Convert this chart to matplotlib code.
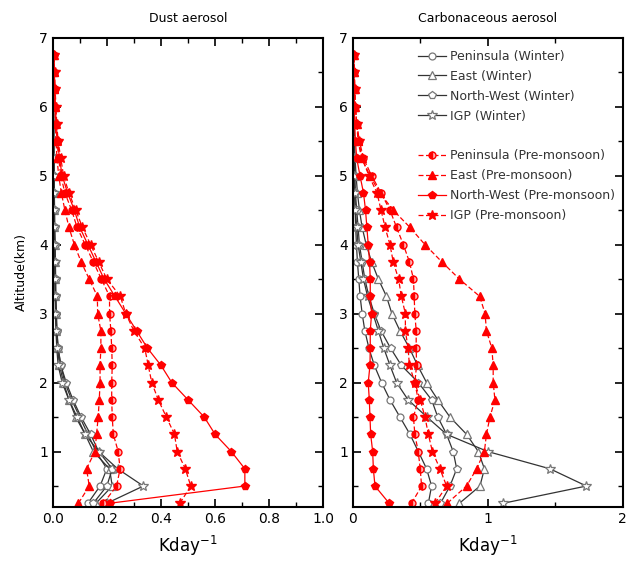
import numpy as np
import matplotlib
matplotlib.use("Agg")
import matplotlib.pyplot as plt
from matplotlib.lines import Line2D
from matplotlib.ticker import MultipleLocator

# altitude levels (km)
alt = [0.25, 0.5, 0.75, 1.0, 1.25, 1.5, 1.75, 2.0, 2.25, 2.5, 2.75, 3.0, 3.25, 3.5,
       3.75, 4.0, 4.25, 4.5, 4.75, 5.0, 5.25, 5.5, 5.75, 6.0, 6.25, 6.5, 6.75]

regions = ["Peninsula", "East", "North-West", "IGP"]

# dust heating rate (K/day)
dust_winter = {
    "Peninsula": [0.13, 0.175, 0.20, 0.16, 0.13, 0.10, 0.07, 0.045, 0.03, 0.02, 0.015, 0.012, 0.01, 0.01,
                  0.008, 0.008, 0.006, 0.006, 0.005, 0.005, 0.004, 0.004, 0.003, 0.003, 0.003, 0.002, 0.002],
    "East": [0.16, 0.22, 0.21, 0.15, 0.12, 0.085, 0.06, 0.04, 0.025, 0.018, 0.014, 0.012, 0.01, 0.009,
             0.008, 0.007, 0.006, 0.005, 0.005, 0.004, 0.004, 0.003, 0.003, 0.003, 0.002, 0.002, 0.002],
    "North-West": [0.15, 0.20, 0.22, 0.17, 0.14, 0.105, 0.075, 0.05, 0.03, 0.02, 0.016, 0.014, 0.012, 0.011,
                   0.01, 0.009, 0.008, 0.007, 0.006, 0.005, 0.005, 0.004, 0.004, 0.003, 0.003, 0.002, 0.002],
    "IGP": [0.20, 0.335, 0.24, 0.17, 0.12, 0.09, 0.06, 0.035, 0.02, 0.015, 0.012, 0.01, 0.009, 0.008,
            0.007, 0.006, 0.005, 0.005, 0.004, 0.004, 0.003, 0.003, 0.003, 0.002, 0.002, 0.002, 0.002],
}
dust_premon = {
    "Peninsula": [0.187, 0.236, 0.249, 0.242, 0.224, 0.22, 0.218, 0.218, 0.22, 0.218, 0.215, 0.21, 0.21, 0.18,
                  0.15, 0.12, 0.09, 0.07, 0.045, 0.03, 0.022, 0.016, 0.012, 0.009, 0.007, 0.005, 0.004],
    "East": [0.095, 0.135, 0.125, 0.156, 0.162, 0.168, 0.172, 0.175, 0.175, 0.178, 0.178, 0.166, 0.165, 0.135,
             0.105, 0.08, 0.06, 0.045, 0.032, 0.022, 0.016, 0.012, 0.01, 0.008, 0.006, 0.005, 0.004],
    "North-West": [0.21, 0.71, 0.71, 0.66, 0.60, 0.56, 0.50, 0.44, 0.40, 0.35, 0.31, 0.27, 0.23, 0.19,
                   0.16, 0.13, 0.10, 0.08, 0.055, 0.035, 0.025, 0.018, 0.013, 0.01, 0.008, 0.006, 0.005],
    "IGP": [0.47, 0.51, 0.49, 0.46, 0.45, 0.42, 0.39, 0.366, 0.353, 0.34, 0.30, 0.27, 0.25, 0.20,
            0.17, 0.14, 0.11, 0.085, 0.06, 0.04, 0.03, 0.02, 0.015, 0.012, 0.009, 0.007, 0.005],
}

# carbonaceous heating rate (K/day)
carb_winter = {
    "Peninsula": [0.56, 0.584, 0.547, 0.486, 0.424, 0.35, 0.276, 0.214, 0.16, 0.12, 0.09, 0.07, 0.055, 0.045,
                  0.035, 0.028, 0.022, 0.018, 0.014, 0.012, 0.01, 0.008, 0.007, 0.006, 0.005, 0.004, 0.004],
    "East": [0.79, 0.942, 0.975, 0.93, 0.843, 0.72, 0.63, 0.547, 0.48, 0.42, 0.35, 0.29, 0.25, 0.19,
             0.14, 0.10, 0.07, 0.05, 0.035, 0.025, 0.018, 0.014, 0.012, 0.01, 0.008, 0.007, 0.006],
    "North-West": [0.65, 0.72, 0.77, 0.744, 0.695, 0.63, 0.584, 0.486, 0.36, 0.28, 0.21, 0.16, 0.12, 0.09,
                   0.07, 0.05, 0.04, 0.03, 0.02, 0.016, 0.012, 0.01, 0.008, 0.007, 0.006, 0.005, 0.004],
    "IGP": [1.114, 1.73, 1.46, 1.0, 0.695, 0.55, 0.41, 0.325, 0.276, 0.23, 0.19, 0.15, 0.11, 0.08,
            0.06, 0.04, 0.03, 0.02, 0.015, 0.012, 0.01, 0.008, 0.007, 0.006, 0.005, 0.004, 0.004],
}
carb_premon = {
    "Peninsula": [0.436, 0.51, 0.50, 0.485, 0.46, 0.45, 0.485, 0.46, 0.473, 0.47, 0.47, 0.46, 0.455, 0.45,
                  0.42, 0.375, 0.325, 0.276, 0.21, 0.14, 0.08, 0.05, 0.03, 0.02, 0.015, 0.012, 0.01],
    "East": [0.70, 0.843, 0.917, 0.975, 0.99, 1.016, 1.053, 1.04, 1.04, 1.03, 0.99, 0.98, 0.94, 0.79,
             0.66, 0.535, 0.424, 0.30, 0.20, 0.128, 0.066, 0.04, 0.03, 0.02, 0.015, 0.012, 0.01],
    "North-West": [0.27, 0.165, 0.153, 0.148, 0.133, 0.128, 0.123, 0.115, 0.128, 0.13, 0.13, 0.14, 0.13, 0.13,
                   0.125, 0.115, 0.105, 0.095, 0.08, 0.054, 0.03, 0.02, 0.015, 0.012, 0.01, 0.008, 0.006],
    "IGP": [0.61, 0.695, 0.646, 0.59, 0.56, 0.535, 0.50, 0.46, 0.42, 0.41, 0.39, 0.39, 0.36, 0.34,
            0.30, 0.276, 0.24, 0.21, 0.18, 0.12, 0.07, 0.045, 0.03, 0.02, 0.015, 0.012, 0.01],
}

markers = {"Peninsula": "o", "East": "^", "North-West": "p", "IGP": "*"}
msize = {"Peninsula": 5, "East": 5.5, "North-West": 5.5, "IGP": 7.5}
pre_ls = {"Peninsula": (0, (4, 2)), "East": (0, (4, 2)), "North-West": "-", "IGP": (0, (4, 2))}


def draw_panel(ax, winter, premon):
    for r in regions:
        ax.plot(winter[r], alt, color="#333333", lw=0.9, marker=markers[r], ms=msize[r],
                mfc="white", mec="#777777", mew=0.9, label=r + " (Winter)")
    for r in regions:
        kw = dict(color="red", lw=0.9, ls=pre_ls[r], marker=markers[r], ms=msize[r],
                  mfc="red", mec="red", label=r + " (Pre-monsoon)")
        if r == "Peninsula":
            kw.update(fillstyle="left", mfcalt="#ffb0b0")
        ax.plot(premon[r], alt, **kw)
    ax.set_ylim(0.2, 7)
    ax.yaxis.set_major_locator(MultipleLocator(1))
    ax.yaxis.set_minor_locator(MultipleLocator(0.5))
    ax.tick_params(which="both", direction="in", top=True, right=True, labelsize=10)
    ax.tick_params(which="major", length=6, width=1.2)
    ax.tick_params(which="minor", length=3.5, width=1.0)
    for s in ax.spines.values():
        s.set_linewidth(1.5)
    ax.set_xlabel("Kday$^{-1}$", fontsize=12, labelpad=6)


fig = plt.figure(figsize=(6.26, 5.67), dpi=100)
ax1 = fig.add_axes([0.0842, 0.1063, 0.4323, 0.8272])
ax2 = fig.add_axes([0.5634, 0.1063, 0.4316, 0.8272])

draw_panel(ax1, dust_winter, dust_premon)
ax1.set_xlim(0, 1.0)
ax1.xaxis.set_major_locator(MultipleLocator(0.2))
ax1.xaxis.set_minor_locator(MultipleLocator(0.1))
ax1.set_xticklabels(["%.1f" % v for v in ax1.get_xticks()])
ax1.set_ylabel("Altitude(km)", fontsize=9, labelpad=8)
ax1.set_title("Dust aerosol", fontsize=9, pad=11)

draw_panel(ax2, carb_winter, carb_premon)
ax2.set_xlim(0, 2)
ax2.xaxis.set_major_locator(MultipleLocator(1))
ax2.xaxis.set_minor_locator(MultipleLocator(0.5))
ax2.set_title("Carbonaceous aerosol", fontsize=9, pad=11)

h, l = ax2.get_legend_handles_labels()
blank = Line2D([], [], color="none")
h = h[:4] + [blank] + h[4:]
l = l[:4] + [" "] + l[4:]
ax2.legend(h, l, loc="upper left", bbox_to_anchor=(0.667, 0.912), bbox_transform=fig.transFigure,
           frameon=False, fontsize=9, handlelength=2.3, handletextpad=0.3,
           labelspacing=0.55, borderpad=0, borderaxespad=0, labelcolor="#333333")

fig.savefig("out.png", dpi=100)
